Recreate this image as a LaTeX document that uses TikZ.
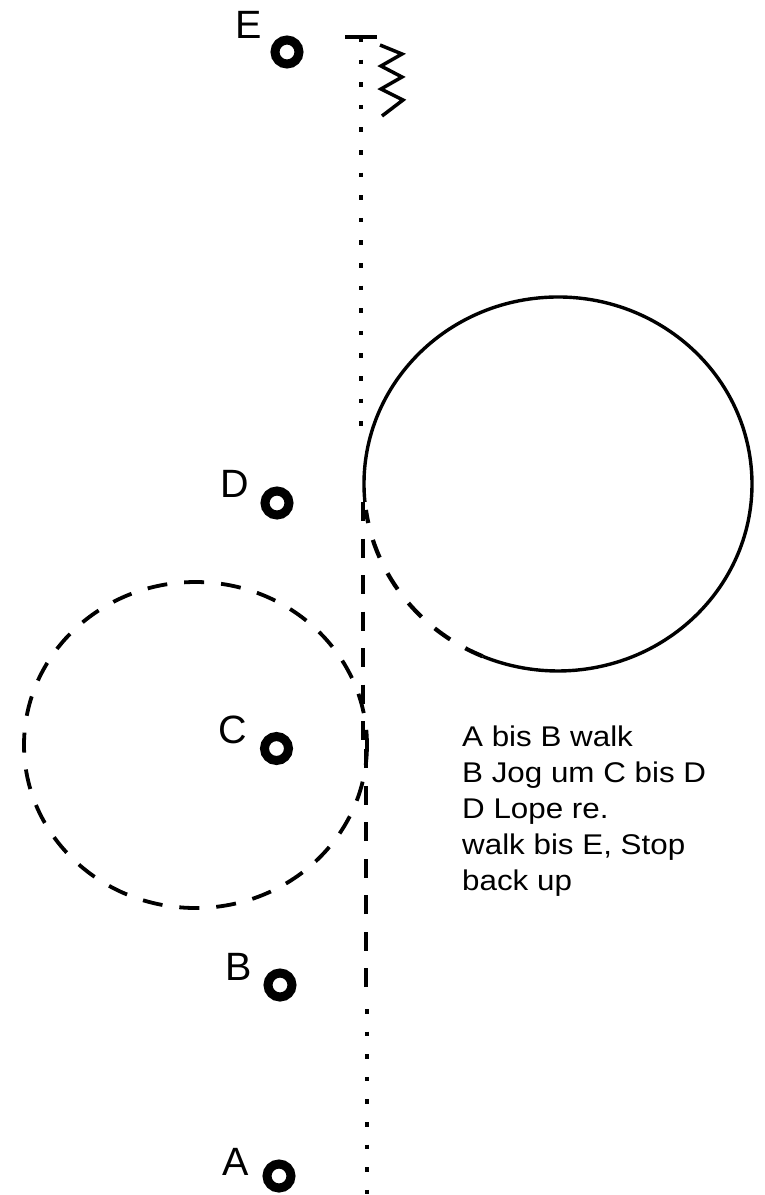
\documentclass[tikz,border=0pt]{standalone}
\usepackage{fontspec}
\setmainfont{Liberation Sans}
\newfontfamily\notefont[FakeStretch=1.1]{Liberation Sans}
\begin{document}
\begin{tikzpicture}[x=1pt,y=-1pt,
  ring/.style={circle,draw,line width=9pt,minimum size=24pt,inner sep=0pt},
  lbl/.style={anchor=base west,inner sep=0pt,font=\fontsize{39.5}{40}\selectfont},
  dotline/.style={line width=4.5pt,dash pattern=on 4.5pt off 18.1pt},
  dashline/.style={line width=4.2pt,dash pattern=on 19pt off 17.5pt},
  solidline/.style={line width=3.4pt},
  note/.style={anchor=north west,inner sep=0pt,align=left,font=\notefont\fontsize{28.5}{36}\selectfont}]
\useasboundingbox (0,0) rectangle (765,1195);
% point markers
\node[ring] (E) at (287,52) {};
\node[ring] (D) at (277,503) {};
\node[ring] (C) at (276.5,748.5) {};
\node[ring] (B) at (280,985) {};
\node[ring] (A) at (279,1176) {};
% labels
\node[lbl] (lE) at (235,38) {E};
\node[lbl] (lD) at (220,497) {D};
\node[lbl] (lC) at (218,743) {C};
\node[lbl] (lB) at (225,980) {B};
\node[lbl] (lA) at (222,1175) {A};
% stop mark and back up zigzag
\draw[dotline] (361,37) -- (361,428);
\draw[line width=3.6pt] (345,37) -- (377,37);
\draw[line width=3.5pt,line join=miter] (380,45) -- (402,54) -- (381,66) -- (402,77) -- (381,89) -- (403,100) -- (382,116);
% lope circle
\draw[solidline] (364.9,501.9) arc[start angle=174.5,end angle=472.9,x radius=194,y radius=187];
\draw[dashline] (482.5,656.2) arc[start angle=112.9,end angle=172,x radius=194,y radius=187];
% jog
\draw[dashline] (363,502) -- (363,745);
\draw[dashline] (366,987) -- (366,745);
\draw[dashline,line width=3.8pt,dash pattern=on 20pt off 17pt] (195.5,745) ellipse[x radius=171.5,y radius=163];
% walk
\draw[dotline] (367,1009) -- (367,1197);
% notes
\node[note] (txt) at (462,726) {A bis B walk\\B Jog um C bis D\\D Lope re.\\walk bis E, Stop\\back up};
\end{tikzpicture}
\end{document}
